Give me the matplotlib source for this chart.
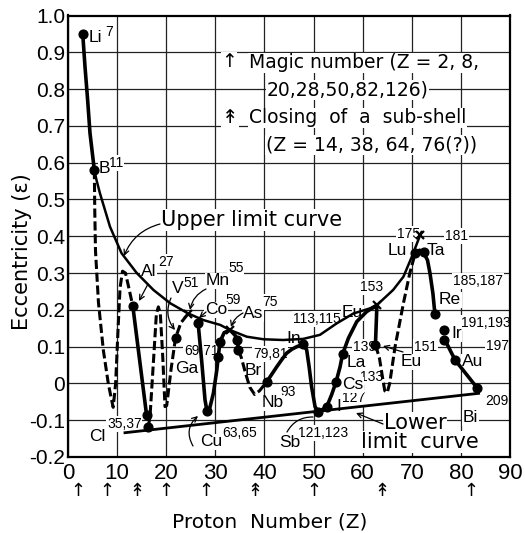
import matplotlib
matplotlib.use("Agg")
import matplotlib.pyplot as plt
from matplotlib.transforms import blended_transform_factory

# ---------------- data (Z, eccentricity) ----------------
dot_Z = [3.0, 5.36, 13.2, 16.0, 16.35, 21.9, 26.5, 28.3, 30.6, 30.95, 34.5, 34.7,
         40.5, 47.9, 51.0, 52.7, 54.6, 55.9, 62.6, 70.7, 72.4, 74.7, 76.6, 76.6,
         78.8, 83.3]
dot_e = [0.95, 0.58, 0.21, -0.086, -0.118, 0.124, 0.163, -0.075, 0.073, 0.113,
         0.118, 0.09, 0.005, 0.106, -0.078, -0.063, 0.005, 0.079, 0.104, 0.354,
         0.356, 0.19, 0.146, 0.119, 0.064, -0.012]

cross_Z = [24.5, 33.0, 62.9, 71.7]
cross_e = [0.19, 0.145, 0.213, 0.403]

# solid (measured) curves
liB_Z = [3.0, 3.46, 4.0, 4.48, 5.36]
liB_e = [0.95, 0.861, 0.77, 0.68, 0.58]
alCl_Z = [13.2, 16.0]
alCl_e = [0.21, -0.086]
coBr_Z = [26.5, 27.2, 27.9, 28.3, 28.9, 29.6, 30.3, 30.6, 30.95, 31.8, 33.0, 34.0, 34.5, 34.7]
coBr_e = [0.163, 0.064, -0.045, -0.075, -0.065, -0.027, 0.036, 0.073, 0.113, 0.138,
          0.145, 0.131, 0.118, 0.09]
nbEu_Z = [40.5, 41.5, 42.5, 43.5, 44.5, 45.6, 46.6, 47.9, 48.6, 49.1, 49.6, 50.3, 51.0,
          52.7, 53.7, 54.6, 55.4, 55.9, 57.1, 58.8, 60.8, 62.9]
nbEu_e = [0.005, 0.025, 0.045, 0.064, 0.082, 0.093, 0.1, 0.106, 0.091, 0.045, -0.009,
          -0.063, -0.078, -0.063, -0.03, 0.005, 0.045, 0.079, 0.123, 0.168, 0.195, 0.213]
eu_Z = [62.9, 62.6]
eu_e = [0.213, 0.104]
luRe_Z = [70.7, 71.6, 72.4, 73.2, 73.7, 74.3, 74.7]
luRe_e = [0.354, 0.362, 0.356, 0.335, 0.3, 0.245, 0.19]
irBi_Z = [76.6, 77.1, 78.8, 83.3]
irBi_e = [0.119, 0.109, 0.064, -0.012]

# dashed (supposed) curves
bAl_Z = [5.36, 5.45, 5.6, 6.2, 7.2, 8.2, 8.8, 9.2, 9.7, 10.2, 10.6, 11.1, 11.7, 12.3, 13.2]
bAl_e = [0.58, 0.47, 0.36, 0.22, 0.09, 0.0, -0.04, -0.065, 0.0, 0.15, 0.26, 0.305, 0.30,
         0.265, 0.21]
clMn_Z = [16.35, 16.7, 17.4, 18.0, 18.4, 18.8, 19.3, 19.75, 20.1, 21.0, 21.9, 23.0, 24.5]
clMn_e = [-0.118, -0.09, 0.06, 0.19, 0.208, 0.19, 0.07, -0.063, -0.06, 0.04, 0.124,
          0.165, 0.19]
brNb_Z = [34.7, 35.3, 36.0, 37.0, 38.0, 39.0, 40.5]
brNb_e = [0.09, 0.07, 0.035, -0.01, -0.03, -0.02, 0.005]
euLu_Z = [62.6, 63.4, 64.0, 64.5, 65.0, 65.5, 66.6, 68.3, 69.6, 70.7]
euLu_e = [0.104, 0.07, 0.02, -0.02, -0.025, 0.0, 0.1, 0.218, 0.3, 0.354]

# limit curves
upper_Z = [5.36, 5.8, 6.5, 8.55, 10.9, 14.0, 17.4, 20.8, 24.5, 27.6, 31.0, 33.0, 36.4,
           39.8, 43.8, 47.9, 51.3, 54.7, 58.1, 61.5, 62.9, 66.2, 68.3, 70.0, 71.7, 72.0]
upper_e = [0.58, 0.553, 0.517, 0.426, 0.354, 0.30, 0.254, 0.218, 0.19, 0.172, 0.159,
           0.145, 0.127, 0.12, 0.118, 0.121, 0.132, 0.163, 0.19, 0.204, 0.213, 0.254,
           0.29, 0.344, 0.403, 0.412]
lower_Z = [11.6, 83.6]
lower_e = [-0.134, -0.027]

# magic numbers / sub-shell closings marked below the axis
magic_Z = [2, 8, 20, 28, 50, 82]
subshell_Z = [14, 38, 64]

x_ticks = [0, 10, 20, 30, 40, 50, 60, 70, 80, 90]
y_ticks = [-0.2, -0.1, 0, 0.1, 0.2, 0.3, 0.4, 0.5, 0.6, 0.7, 0.8, 0.9, 1.0]
y_tick_labels = ["-0.2", "-0.1", "0", "0.1", "0.2", "0.3", "0.4", "0.5", "0.6", "0.7",
                 "0.8", "0.9", "1.0"]

# ---------------- figure ----------------
NARROW = ["Liberation Sans", "DejaVu Sans"]
WIDE = ["DejaVu Sans"]
plt.rcParams["font.family"] = WIDE

W, H = 525, 533
fig = plt.figure(figsize=(W / 100, H / 100), dpi=100)
ax = fig.add_axes([68 / W, 1 - 457 / H, (510 - 68) / W, (457 - 15.5) / H])
ax.set_xlim(0, 90)
ax.set_ylim(-0.2, 1.0)


def D(px, py):
    """reference-pixel position -> data coordinates (for label placement)"""
    return (px - 68) / (442 / 90), 1.0 - (py - 15.5) / (441.5 / 1.2)


ax.set_xticks(x_ticks)
ax.set_yticks(y_ticks)
ax.set_yticklabels(y_tick_labels)
ax.tick_params(length=0)
ax.tick_params(axis="x", pad=4)
ax.tick_params(axis="y", pad=2)
for lb in ax.get_xticklabels():
    lb.set_fontfamily(NARROW); lb.set_fontsize(16)
for lb in ax.get_yticklabels():
    lb.set_fontfamily(NARROW); lb.set_fontsize(15)
ax.grid(True, color="#222222", lw=0.9)
ax.set_axisbelow(True)
for s in ax.spines.values():
    s.set_linewidth(1.6)

LW_THICK = 2.6
LW_THIN = 1.8
DASH = (0, (3.0, 1.2))

# limit curves
ax.plot(upper_Z, upper_e, color="black", lw=LW_THIN, zorder=3, solid_capstyle="round")
ax.plot(lower_Z, lower_e, color="black", lw=LW_THIN + 0.2, zorder=3)

# measured curves
for zs, es in [(liB_Z, liB_e), (alCl_Z, alCl_e), (coBr_Z, coBr_e), (nbEu_Z, nbEu_e),
               (eu_Z, eu_e), (luRe_Z, luRe_e), (irBi_Z, irBi_e)]:
    ax.plot(zs, es, color="black", lw=LW_THICK, zorder=4, solid_capstyle="round",
            solid_joinstyle="round")
# supposed curves
for zs, es in [(bAl_Z, bAl_e), (clMn_Z, clMn_e), (brNb_Z, brNb_e), (euLu_Z, euLu_e)]:
    ax.plot(zs, es, color="black", lw=2.2, ls=DASH, zorder=4)

ax.plot(dot_Z, dot_e, "o", color="black", ms=6.3, zorder=5)
ax.plot(cross_Z, cross_e, "x", color="black", ms=6, mew=1.6, zorder=5)

# ---------------- labels ----------------
WHITE = dict(facecolor="white", edgecolor="none", pad=0.4)


def txt(s, px, py, size=14, fam=NARROW, ha="left", box=True, **kw):
    x, y = D(px, py)
    ax.text(x, y, s, fontsize=size, family=fam, ha=ha, va="center", zorder=2.5,
            bbox=WHITE if box else None, **kw)


MAIN, SUP = 12.5, 10
labels = [
    ("Li", 89, 38, "7", 105, 32),
    ("B", 99, 169, "11", 109, 163),
    ("Al", 141, 272, "27", 158, 262),
    ("V", 172, 289, "51", 183, 283),
    ("Mn", 206, 281, "55", 228, 268),
    ("Co", 205, 310, "59", 225, 300),
    ("As", 243, 314, "75", 262, 302),
    ("Ga", 175, 369, "69,71", 184, 351),
    ("Br", 245, 371, "79,81", 253, 354),
    ("Nb", 262, 403, "93", 280, 392),
    ("In", 286, 339, "113,115", 293, 319),
    ("Sb", 279, 443, "121,123", 298, 433),
    ("I", 336, 407, "127", 342, 398),
    ("Cs", 342, 385, "133", 360, 377),
    ("La", 347, 363, "139", 353, 347),
    ("Eu", 342, 313, "153", 360, 287),
    ("Eu", 401, 362, "151", 414, 347),
    ("Lu", 388, 251, "175", 397, 234),
    ("Ta", 427, 251, "181", 445, 236),
    ("Re", 439, 300, "185,187", 453, 281),
    ("Ir", 451, 334, "191,193", 461, 323),
    ("Au", 462, 362, "197", 486, 346),
    ("Bi", 463, 418, "209", 485, 401),
    ("Cl", 89, 437, "35,37", 107, 424),
    ("Cu", 200, 442, "63,65", 222, 433),
]
# superscripts first, element symbols drawn on top
for m, mx, my, s, sx, sy in labels:
    txt(s, sx, sy, SUP)
for m, mx, my, s, sx, sy in labels:
    txt(m, mx, my, MAIN)

# curve labels
txt("Upper limit curve", 161, 220, 15, WIDE)
txt("Lower", 384, 423, 15, WIDE)
txt("limit  curve", 361, 442, 15, WIDE)

# legend block
txt("↑", 229, 62, 13.5, WIDE, ha="center")
txt("Magic number (Z = 2, 8,", 249, 63, 13.5, WIDE)
txt("20,28,50,82,126)", 267, 90, 13.5, WIDE)
txt("↟", 230, 118, 14, WIDE, ha="center")
txt("Closing  of  a  sub-shell", 249, 118, 13.5, WIDE)
txt("(Z = 14, 38, 64, 76(?))", 266, 145, 13.5, WIDE)


def arrow(p_from, p_to, rad=0.0, style="-|>", lw=0.9):
    ax.annotate("", xy=D(*p_to), xytext=D(*p_from),
                arrowprops=dict(arrowstyle=style, lw=lw, color="black",
                                connectionstyle=f"arc3,rad={rad}",
                                shrinkA=0, shrinkB=0, mutation_scale=9),
                zorder=6)


arrow((160, 224), (124, 256), rad=0.25, style="->")
arrow((148, 284), (139, 301), rad=0.0, style="->")
arrow((171, 298), (175, 330), rad=0.3, style="->")
arrow((206, 289), (190, 310), rad=0.25, style="->")
arrow((206, 312), (199, 318), rad=0.0, style="->")
arrow((243, 313), (231, 327), rad=0.2, style="->")
arrow((193, 446), (198, 416), rad=-0.4, style="->")
arrow((403, 352), (383, 346), rad=0.0, style="->")
arrow((383, 424), (356, 413), rad=0.0, style="->")
arrow((287, 432), (313, 417), rad=-0.3, style="-")

# marker arrows below the x-axis
trans = blended_transform_factory(ax.transData, ax.transAxes)
for z in magic_Z:
    ax.text(z, -0.077, "↑", transform=trans, ha="center", va="center", fontsize=13,
            family=WIDE, clip_on=False)
for z in subshell_Z:
    ax.text(z, -0.077, "↟", transform=trans, ha="center", va="center", fontsize=13,
            family=WIDE, clip_on=False)

ax.set_xlabel("Proton  Number (Z)", fontsize=14.5, labelpad=0)
ax.xaxis.set_label_coords((270 - 68) / 442, (457 - 522) / 441.5)
ax.set_ylabel("Eccentricity (ε)", fontsize=15)
ax.yaxis.set_label_coords((22 - 68) / 442, (457 - 252) / 441.5)
ax.xaxis.label.set_va("center")
ax.yaxis.label.set_va("center")

fig.savefig("out.png", dpi=100)
